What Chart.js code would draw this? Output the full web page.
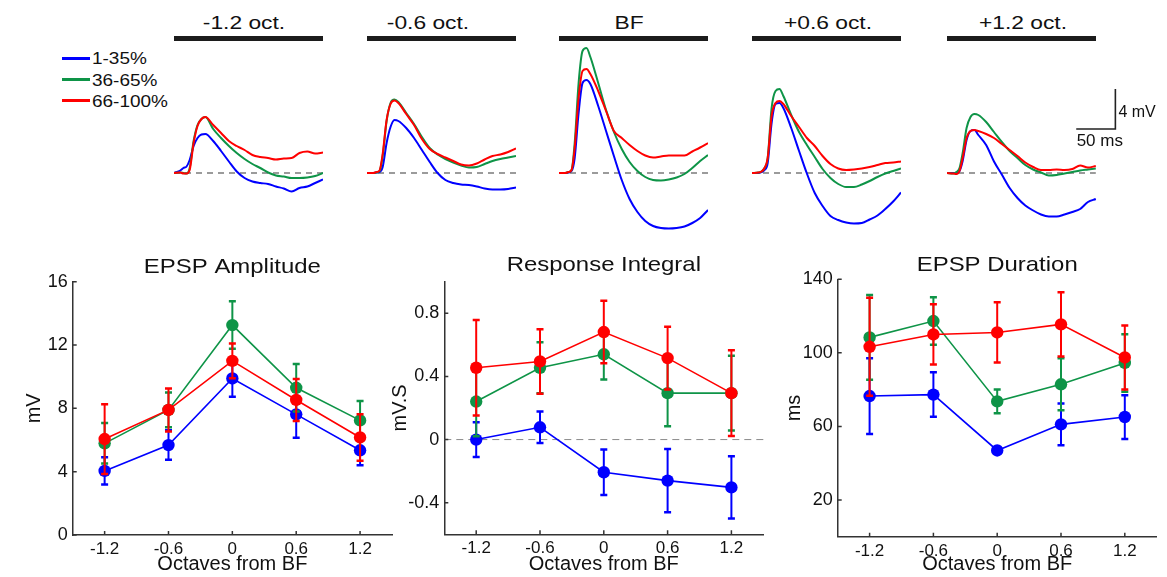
<!DOCTYPE html>
<html>
<head>
<meta charset="utf-8">
<script src="https://cdn.jsdelivr.net/npm/chart.js@4.4.1/dist/chart.umd.min.js"></script>
<style>
  body { margin: 0; background: #fff; }
  #fig { position: relative; width: 1167px; height: 577px; overflow: hidden; font-family: "Liberation Sans", Arial, sans-serif; color: #111; }
  #fig canvas { position: absolute; }
  .ptitle { position: absolute; width: 160px; text-align: center; font-size: 19px; font-weight: normal; line-height: 24px; transform: scaleX(1.2); white-space: nowrap; }
  .pbar { position: absolute; width: 149px; height: 5px; background: #1c1c1c; }
  .legline { position: absolute; width: 28px; height: 2.5px; }
  .legtext { position: absolute; font-size: 16.5px; line-height: 20px; transform: scaleX(1.15); transform-origin: left center; white-space: nowrap; }
</style>
</head>
<body>
<div id="fig"></div>
<script>
// --- DATA ---
const groupNames = ['1-35%', '36-65%', '66-100%'];
const groupColors = ['#0000ff', '#0e9447', '#ff0000'];

// summary plots, x = octaves from BF
const octaves = [-1.2, -0.6, 0, 0.6, 1.2];

const ampBlue = [4.05, 5.68, 9.89, 7.62, 5.35];
const ampBlueErr = [0.86, 0.93, 1.15, 1.47, 0.95];
const ampGreen = [5.79, 7.9, 13.26, 9.3, 7.24];
const ampGreenErr = [1.28, 1.1, 1.5, 1.5, 1.22];
const ampRed = [6.06, 7.9, 11.0, 8.53, 6.16];
const ampRedErr = [2.2, 1.36, 1.1, 1.33, 1.47];
const ampTicks = [0, 4, 8, 12, 16];

const intBlue = [0.0, 0.078, -0.207, -0.26, -0.303];
const intBlueErr = [0.11, 0.10, 0.144, 0.2, 0.197];
const intGreen = [0.241, 0.455, 0.54, 0.294, 0.294];
const intGreenErr = [0.22, 0.162, 0.16, 0.21, 0.237];
const intRed = [0.455, 0.495, 0.681, 0.516, 0.294];
const intRedErr = [0.303, 0.204, 0.198, 0.199, 0.272];
const intTicks = [-0.4, 0, 0.4, 0.8];

const durBlue = [76.5, 77.3, 46.9, 61.1, 65.1];
const durBlueErr = [20.6, 12.1, 1.5, 11.4, 11.9];
const durGreen = [108.4, 117.3, 73.6, 82.9, 94.5];
const durGreenErr = [23.1, 12.9, 6.4, 14.1, 15.6];
const durRed = [103.3, 110.0, 111.1, 115.5, 97.5];
const durRedErr = [26.7, 16.4, 16.4, 17.5, 17.4];
const durTicks = [20, 60, 100, 140];

// average EPSP traces (mV vs ms)
const panelLabels = ['-1.2 oct.', '-0.6 oct.', 'BF', '+0.6 oct.', '+1.2 oct.'];
const traceTimes = [0, 8, 12, 16, 20, 25, 30, 35, 40, 50, 60, 70, 80, 90, 100, 110, 120, 130, 140, 150, 160, 170, 180, 190];

const tr1Blue  = [0, 0.25, 0.5, 0.65, 1.3, 2.7, 3.5, 3.85, 3.9, 3.2, 2.2, 1.15, 0.15, -0.5, -0.85, -1.0, -1.1, -1.35, -1.55, -1.85, -1.5, -1.35, -1.0, -0.65];
const tr1Green = [0, 0.05, 0, -0.05, 0.5, 3.2, 4.8, 5.4, 5.6, 4.4, 3.5, 2.7, 2.0, 1.4, 0.9, 0.5, 0.05, -0.25, -0.35, -0.5, -0.5, -0.45, -0.3, 0];
const tr1Red   = [0, 0.05, -0.05, -0.05, 0.3, 3.0, 4.7, 5.4, 5.6, 4.8, 4.0, 3.2, 2.7, 2.3, 1.8, 1.6, 1.5, 1.35, 1.45, 1.5, 2.0, 2.15, 1.95, 2.05];

const tr2Blue  = [0, 0, 0.05, 0.1, 0.6, 3.0, 4.6, 5.3, 5.2, 4.5, 3.5, 2.3, 1.1, 0, -0.7, -1.0, -1.15, -1.2, -1.35, -1.55, -1.65, -1.65, -1.6, -1.45];
const tr2Green = [0, 0, 0.05, 0.2, 1.7, 5.2, 7.0, 7.35, 7.1, 6.0, 4.9, 3.6, 2.5, 1.85, 1.4, 1.05, 0.75, 0.55, 0.6, 0.9, 1.2, 1.4, 1.55, 1.7];
const tr2Red   = [0, 0, 0.1, 0.25, 1.9, 5.3, 6.9, 7.25, 7.0, 5.9, 4.8, 3.4, 2.4, 1.9, 1.55, 1.2, 0.85, 0.75, 0.95, 1.35, 1.7, 1.85, 2.1, 2.45];

const tr3Blue  = [0, 0, 0.05, 0.2, 1.5, 6.0, 9.0, 9.3, 8.9, 6.7, 4.2, 1.7, -0.7, -2.6, -3.9, -4.8, -5.3, -5.5, -5.55, -5.5, -5.35, -5.0, -4.5, -3.7];
const tr3Green = [0, 0, 0.1, 0.3, 3.0, 9.0, 12.2, 12.5, 11.6, 9.0, 6.3, 4.1, 2.4, 1.1, 0.2, -0.4, -0.7, -0.75, -0.65, -0.45, -0.1, 0.5, 1.2, 1.8];
const tr3Red   = [0, 0, 0.1, 0.3, 2.5, 7.5, 10.2, 10.4, 9.9, 8.2, 6.2, 4.2, 3.5, 2.8, 2.2, 1.75, 1.55, 1.65, 1.75, 1.75, 1.75, 2.15, 2.55, 3.0];

const tr4Blue  = [0, 0, 0.1, 0.3, 1.0, 5.0, 6.9, 7.0, 6.5, 4.5, 2.2, -0.05, -2.0, -3.3, -4.3, -4.7, -4.95, -5.05, -5.0, -4.65, -4.25, -3.6, -2.85, -1.95];
const tr4Green = [0, 0.05, 0.15, 0.5, 1.5, 6.5, 8.2, 8.4, 7.7, 5.8, 4.1, 2.8, 1.6, 0.4, -0.5, -1.1, -1.4, -1.4, -1.15, -0.8, -0.4, -0.05, 0.2, 0.45];
const tr4Red   = [0, 0.05, 0.15, 0.5, 1.5, 5.7, 7.0, 7.2, 6.9, 5.7, 4.6, 3.5, 2.7, 1.7, 0.9, 0.45, 0.3, 0.35, 0.45, 0.6, 0.8, 1.0, 1.05, 1.15];

const tr5Blue  = [0, 0, 0, 0.2, 1.2, 3.3, 4.2, 4.3, 3.8, 2.8, 1.15, -0.15, -1.5, -2.5, -3.25, -3.75, -4.15, -4.35, -4.35, -4.15, -3.9, -3.6, -2.9, -2.6];
const tr5Green = [0, -0.05, 0.1, 0.5, 2.0, 4.5, 5.6, 5.9, 5.8, 5.1, 4.1, 3.1, 2.2, 1.5, 0.8, 0.35, 0.05, -0.25, -0.2, -0.05, 0.1, 0.25, 0.35, 0.45];
const tr5Red   = [0, -0.05, -0.1, 0.2, 1.5, 3.5, 4.2, 4.3, 4.2, 3.9, 3.5, 2.9, 2.3, 1.7, 1.05, 0.6, 0.3, 0.3, 0.35, 0.3, 0.4, 0.75, 0.55, 0.7];

const scaleBarMs = 50;
const scaleBarMv = 4;

// --- LAYOUT ---
const FONT = '"Liberation Sans", Arial, sans-serif';
const fig = document.getElementById('fig');
const PX_PER_MS = 149 / 190;
const PX_PER_MV = 10;
const TRACE_TOP = 40, TRACE_H = 200, BASE_Y = 173;
const panelLefts = [174, 366.7, 559.3, 752.3, 946.7];
const titleShift = [-5, -13.5, -5, 0.7, 1.6];

function addCanvas(left, top, w, h) {
    const c = document.createElement('canvas');
    c.width = Math.round(w);
    c.height = Math.round(h);
    c.style.left = left + 'px';
    c.style.top = top + 'px';
    fig.appendChild(c);
    return c;
}

function addDiv(cls, styles, text) {
    const d = document.createElement('div');
    d.className = cls;
    Object.assign(d.style, styles);
    if (text) d.textContent = text;
    fig.appendChild(d);
    return d;
}

// legend
const legendRows = [58.3, 79.5, 100.7];
groupNames.forEach((name, i) => {
    addDiv('legline', { left: '62px', top: (legendRows[i] - 1.25) + 'px', background: groupColors[i] });
    addDiv('legtext', { left: '92px', top: (legendRows[i] - 10) + 'px' }, name);
});

// scale bar, drawn with the last trace chart's scales
const scaleBarPlugin = {
    id: 'scaleBar',
    afterDraw(chart) {
        const { ctx, scales: { x, y } } = chart;
        const cornerT = 215, cornerV = 4.4; // where the corner sits, in ms / mV
        const x1 = x.getPixelForValue(cornerT);
        const x0 = x.getPixelForValue(cornerT - scaleBarMs);
        const y1 = y.getPixelForValue(cornerV);
        const y0 = y.getPixelForValue(cornerV + scaleBarMv);
        ctx.save();
        ctx.strokeStyle = '#222';
        ctx.lineWidth = 1.6;
        ctx.beginPath();
        ctx.moveTo(x1, y0);
        ctx.lineTo(x1, y1);
        ctx.lineTo(x0, y1);
        ctx.stroke();
        ctx.fillStyle = '#111';
        ctx.textBaseline = 'middle';
        ctx.textAlign = 'left';
        ctx.font = '16px ' + FONT;
        ctx.fillText(scaleBarMv + ' mV', x1 + 3, (y0 + y1) / 2 + 4);
        ctx.textAlign = 'center';
        ctx.font = '17px ' + FONT;
        ctx.fillText(scaleBarMs + ' ms', (x0 + x1) / 2 + 4, y1 + 12);
        ctx.restore();
    }
};

// --- TRACE PANELS ---
const traceSets = [
    [tr1Blue, tr1Green, tr1Red],
    [tr2Blue, tr2Green, tr2Red],
    [tr3Blue, tr3Green, tr3Red],
    [tr4Blue, tr4Green, tr4Red],
    [tr5Blue, tr5Green, tr5Red]
];
const traceEnd = traceTimes[traceTimes.length - 1];

panelLefts.forEach((left, i) => {
    const barCenter = left + 74.5;
    addDiv('pbar', { left: left + 'px', top: '36px' });
    addDiv('ptitle', { left: (barCenter - 80 + titleShift[i]) + 'px', top: '11px' }, panelLabels[i]);

    const isLast = i === panelLefts.length - 1;
    const width = isLast ? 1167 - left : 149;
    const canvas = addCanvas(left, TRACE_TOP, width, TRACE_H);

    const datasets = [{
        data: [{ x: 0, y: 0 }, { x: traceEnd, y: 0 }],
        borderColor: '#9b9b9b',
        borderWidth: 2,
        borderDash: [6, 5],
        order: 10
    }];
    traceSets[i].forEach((vals, g) => {
        datasets.push({
            data: traceTimes.map((t, k) => ({ x: t, y: vals[k] })),
            borderColor: groupColors[g],
            borderWidth: 2,
            cubicInterpolationMode: 'monotone',
            order: 3 - g
        });
    });

    new Chart(canvas, {
        type: 'line',
        data: { datasets: datasets },
        options: {
            responsive: false,
            animation: false,
            events: [],
            layout: { padding: 0, autoPadding: false },
            elements: { point: { radius: 0 } },
            datasets: { line: { clip: false } },
            plugins: { legend: { display: false }, tooltip: { enabled: false } },
            scales: {
                x: { type: 'linear', display: false, min: 0, max: width / PX_PER_MS },
                y: { display: false, min: -(TRACE_TOP + TRACE_H - BASE_Y) / PX_PER_MV, max: (BASE_Y - TRACE_TOP) / PX_PER_MV }
            }
        },
        plugins: isLast ? [scaleBarPlugin] : []
    });
});

// --- SUMMARY PANELS ---
const errorBarPlugin = {
    id: 'errorBars',
    beforeDatasetDraw(chart, args) {
        const ds = chart.data.datasets[args.index];
        if (!ds.errors) return;
        const { ctx, scales: { x, y } } = chart;
        ctx.save();
        ctx.strokeStyle = ds.borderColor;
        ds.data.forEach((p, k) => {
            const e = ds.errors[k];
            const px = x.getPixelForValue(p.x);
            const top = y.getPixelForValue(p.y + e);
            const bot = y.getPixelForValue(p.y - e);
            ctx.lineWidth = 2;
            ctx.beginPath();
            ctx.moveTo(px, top);
            ctx.lineTo(px, bot);
            ctx.stroke();
            ctx.lineWidth = 2.5;
            ctx.beginPath();
            ctx.moveTo(px - 3.5, top);
            ctx.lineTo(px + 3.5, top);
            ctx.moveTo(px - 3.5, bot);
            ctx.lineTo(px + 3.5, bot);
            ctx.stroke();
        });
        ctx.restore();
    }
};

const inwardTicksPlugin = {
    id: 'inwardTicks',
    afterDraw(chart) {
        const { ctx, chartArea: a, scales: { x, y } } = chart;
        ctx.save();
        ctx.strokeStyle = '#333';
        ctx.lineWidth = 1.5;
        ctx.beginPath();
        x.ticks.forEach(t => {
            const p = x.getPixelForValue(t.value);
            ctx.moveTo(p, a.bottom);
            ctx.lineTo(p, a.bottom - 4);
        });
        y.ticks.forEach(t => {
            const p = y.getPixelForValue(t.value);
            ctx.moveTo(a.left, p);
            ctx.lineTo(a.left + 4, p);
        });
        ctx.stroke();
        ctx.restore();
    }
};

// title centred over the plot area (the figure's text is a little wide, so stretch it)
const panelTitlePlugin = {
    id: 'panelTitle',
    afterDraw(chart, args, opts) {
        const { ctx, chartArea: a } = chart;
        ctx.save();
        ctx.font = '21px ' + FONT;
        ctx.fillStyle = '#111';
        ctx.textAlign = 'center';
        ctx.textBaseline = 'middle';
        ctx.translate((a.left + a.right) / 2, opts.y);
        ctx.scale(1.14, 1);
        ctx.fillText(opts.text, 0, 0);
        ctx.restore();
    }
};

function makeSummary(cfg) {
    const top = 250, height = 327;
    const canvas = addCanvas(cfg.left, top, cfg.width, height);

    const datasets = cfg.series.map((s, g) => ({
        data: octaves.map((o, k) => ({ x: o, y: s.vals[k] })),
        errors: s.err,
        borderColor: groupColors[g],
        backgroundColor: groupColors[g],
        pointBackgroundColor: groupColors[g],
        pointBorderWidth: 0,
        pointRadius: 6.2,
        borderWidth: 1.6,
        order: 3 - g
    }));
    if (cfg.zeroLine) {
        datasets.push({
            data: [{ x: -1.5, y: 0 }, { x: 1.5, y: 0 }],
            borderColor: '#8a8a8a',
            borderWidth: 1,
            borderDash: [7, 5],
            pointRadius: 0,
            order: 10
        });
    }

    const axisFont = size => ({ family: FONT, size: size });

    new Chart(canvas, {
        type: 'line',
        data: { datasets: datasets },
        options: {
            responsive: false,
            animation: false,
            events: [],
            layout: {
                padding: { left: 0, top: cfg.plotTop - top, bottom: 0, right: cfg.left + cfg.width - cfg.plotRight },
                autoPadding: false
            },
            datasets: { line: { clip: false } },
            plugins: {
                legend: { display: false },
                tooltip: { enabled: false },
                panelTitle: { text: cfg.title, y: cfg.titleY - top }
            },
            scales: {
                x: {
                    type: 'linear',
                    min: -1.5,
                    max: 1.5,
                    afterBuildTicks: ax => { ax.ticks = octaves.map(v => ({ value: v })); },
                    afterFit: ax => { ax.height = top + height - cfg.plotBottom; },
                    grid: { display: false, drawTicks: false },
                    border: { display: true, color: '#333', width: 1.5 },
                    ticks: { font: axisFont(17), color: '#111', padding: 4, maxRotation: 0, autoSkip: false, callback: v => String(v) },
                    title: { display: true, text: 'Octaves from BF', color: '#111', font: axisFont(20), padding: { top: 0, bottom: 1 } }
                },
                y: {
                    min: cfg.yMin,
                    max: cfg.yMax,
                    afterBuildTicks: ax => { ax.ticks = cfg.yTicks.map(v => ({ value: v })); },
                    afterFit: ax => { ax.width = cfg.plotLeft - cfg.left; },
                    grid: { display: false, drawTicks: false },
                    border: { display: true, color: '#333', width: 1.5 },
                    ticks: { font: axisFont(18), color: '#111', padding: 5, callback: v => String(v) },
                    title: { display: true, text: cfg.yTitle, color: '#111', font: axisFont(20), padding: { top: cfg.yTitleX - cfg.left - 12, bottom: 0 } }
                }
            }
        },
        plugins: [errorBarPlugin, inwardTicksPlugin, panelTitlePlugin]
    });
}

makeSummary({
    left: 0, width: 400, plotLeft: 72.7, plotRight: 392, plotTop: 281.7, plotBottom: 535,
    titleY: 267.5, title: 'EPSP Amplitude', yTitle: 'mV', yTitleX: 34,
    yMin: 0, yMax: 16, yTicks: ampTicks,
    series: [{ vals: ampBlue, err: ampBlueErr }, { vals: ampGreen, err: ampGreenErr }, { vals: ampRed, err: ampRedErr }]
});

makeSummary({
    left: 385, width: 400, plotLeft: 444.3, plotRight: 763.3, plotTop: 281.7, plotBottom: 534.3,
    titleY: 265.5, title: 'Response Integral', yTitle: 'mV.S', yTitleX: 400.7,
    yMin: -0.6, yMax: 1.0, yTicks: intTicks, zeroLine: true,
    series: [{ vals: intBlue, err: intBlueErr }, { vals: intGreen, err: intGreenErr }, { vals: intRed, err: intRedErr }]
});

makeSummary({
    left: 775, width: 392, plotLeft: 837.7, plotRight: 1156.7, plotTop: 279.3, plotBottom: 536.7,
    titleY: 265, title: 'EPSP Duration', yTitle: 'ms', yTitleX: 794,
    yMin: 0, yMax: 140, yTicks: durTicks,
    series: [{ vals: durBlue, err: durBlueErr }, { vals: durGreen, err: durGreenErr }, { vals: durRed, err: durRedErr }]
});
</script>
</body>
</html>
